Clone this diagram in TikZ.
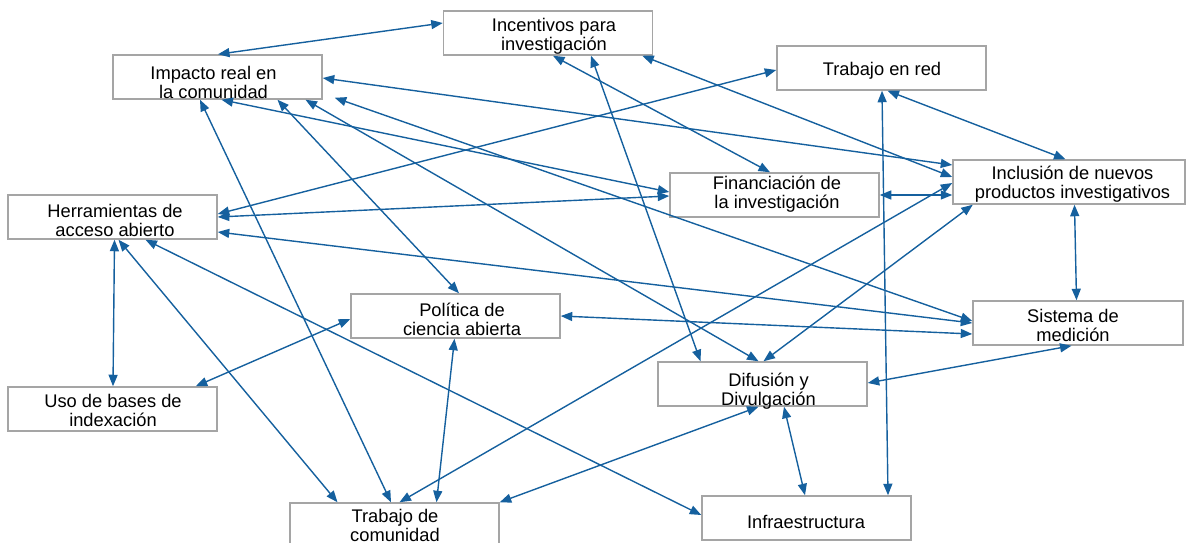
\documentclass[tikz,border=0pt]{standalone}
\usepackage{fontspec}
\setmainfont{Liberation Sans}
\usetikzlibrary{arrows.meta}
\definecolor{boxgray}{RGB}{165,165,165}
\definecolor{linkblue}{RGB}{21,96,158}
\begin{document}
\begin{tikzpicture}[x=1pt,y=1pt,
  box/.style={draw=boxgray,line width=1.5pt,minimum width=209pt,minimum height=44pt,inner sep=0pt},
  lbl/.style={font=\fontsize{18.3}{19}\selectfont,align=center,inner sep=0pt},
  link/.style={draw=linkblue,line width=1.4pt,{Triangle[length=11.5pt,width=9pt]}-{Triangle[length=11.5pt,width=9pt]}}]
\useasboundingbox (0,0) rectangle (1186,-543);
% boxes
\node[box] (inc) at (548,-33) {};
\node[box] (imp) at (217.5,-77) {};
\node[box] (red) at (881.5,-68) {};
\node[box,minimum width=232pt] (incl) at (1069,-182) {};
\node[box] (fin) at (774.5,-195) {};
\node[box] (her) at (112.5,-217) {};
\node[box] (pol) at (455.5,-316) {};
\node[box,minimum width=210pt] (sis) at (1078,-323) {};
\node[box] (dif) at (762.5,-384) {};
\node[box] (inf) at (806.5,-518) {};
\node[box] (uso) at (112.5,-409) {};
\node[box] (tc) at (394.5,-525) {};
% connectors
\draw[link] ([xshift=0.5pt]imp.north) -- ([yshift=10pt]inc.west);
\draw[link] ([yshift=-1pt]imp.east) -- ([yshift=17pt]incl.west);
\draw[link] ([xshift=4pt]imp.south) -- ([yshift=3pt]fin.west);
\draw[link] ([xshift=60pt]imp.south) -- ([xshift=3.5pt]pol.north);
\draw[link] ([xshift=88pt]imp.south) -- ([xshift=-4pt]dif.north);
\draw[link] ([xshift=12pt,yshift=2pt]imp.south east) -- ([yshift=2pt]sis.west);
\draw[link] ([xshift=-17.5pt]imp.south) -- ([xshift=-3.5pt]tc.north);
\draw[link] ([xshift=5pt]inc.south) -- ([xshift=-4.5pt]fin.north);
\draw[link] ([xshift=43pt]inc.south) -- ([xshift=-62pt]dif.north);
\draw[link] ([xshift=-11pt]inc.south east) -- ([yshift=5pt]incl.west);
\draw[link] ([yshift=3pt]her.east) -- ([yshift=-2pt]red.west);
\draw[link] (her.east) -- ([yshift=-1pt]fin.west);
\draw[link] ([yshift=-15pt]her.east) -- (sis.west);
\draw[link] ([xshift=2pt]her.south) -- ([xshift=0.5pt]uso.north);
\draw[link] ([xshift=6pt]her.south) -- ([xshift=-57pt]tc.north);
\draw[link] ([xshift=33pt]her.south) -- ([yshift=3pt]inf.west);
\draw[link] ([yshift=-3pt]pol.west) -- ([xshift=-22pt]uso.north east);
\draw[link] (pol.east) -- ([yshift=-11pt]sis.west);
\draw[link] ([xshift=-1pt]pol.south) -- ([xshift=42pt]tc.north);
\draw[link] (fin.east) -- ([yshift=-13pt]incl.west);
\draw[link] ([xshift=6pt]red.south) -- ([xshift=-3.5pt]incl.north);
\draw[link] ([xshift=0.5pt]red.south) -- ([xshift=81.5pt]inf.north);
\draw[link] ([xshift=5.5pt]incl.south) -- ([xshift=-1.5pt]sis.north);
\draw[link] ([xshift=20.5pt]incl.south west) -- ([xshift=1pt]dif.north);
\draw[link] ([yshift=-1pt]incl.west) -- ([xshift=5pt]tc.north);
\draw[link] ([xshift=-6.5pt]sis.south) -- ([yshift=1pt]dif.east);
\draw[link] ([xshift=-4pt]dif.south) -- (tc.north east);
\draw[link] ([xshift=21.5pt]dif.south) -- ([xshift=-1.5pt]inf.north);
% labels
\node[lbl] (tinc) at (554,-36.5) {Incentivos para\\investigación};
\node[lbl] (timp) at (213.5,-82) {Impacto real en\\la comunidad};
\node[lbl] (tred) at (882,-71) {Trabajo en red};
\node[lbl] (tincl) at (1072.5,-184.5) {Inclusión de nuevos\\productos investigativos};
\node[lbl] (tfin) at (777,-194.5) {Financiación de\\la investigación};
\node[lbl] (ther) at (115,-220.5) {Herramientas de\\acceso abierto};
\node[lbl] (tpol) at (462,-319) {Política de\\ciencia abierta};
\node[lbl] (tsis) at (1073,-325) {Sistema de\\medición};
\node[lbl] (tdif) at (768.5,-391) {Difusión y\\Divulgación};
\node[lbl] (tinf) at (806,-522) {Infraestructura};
\node[lbl] (tuso) at (113,-410) {Uso de bases de\\indexación};
\node[lbl] (ttc) at (395,-525) {Trabajo de\\comunidad};
\end{tikzpicture}
\end{document}
